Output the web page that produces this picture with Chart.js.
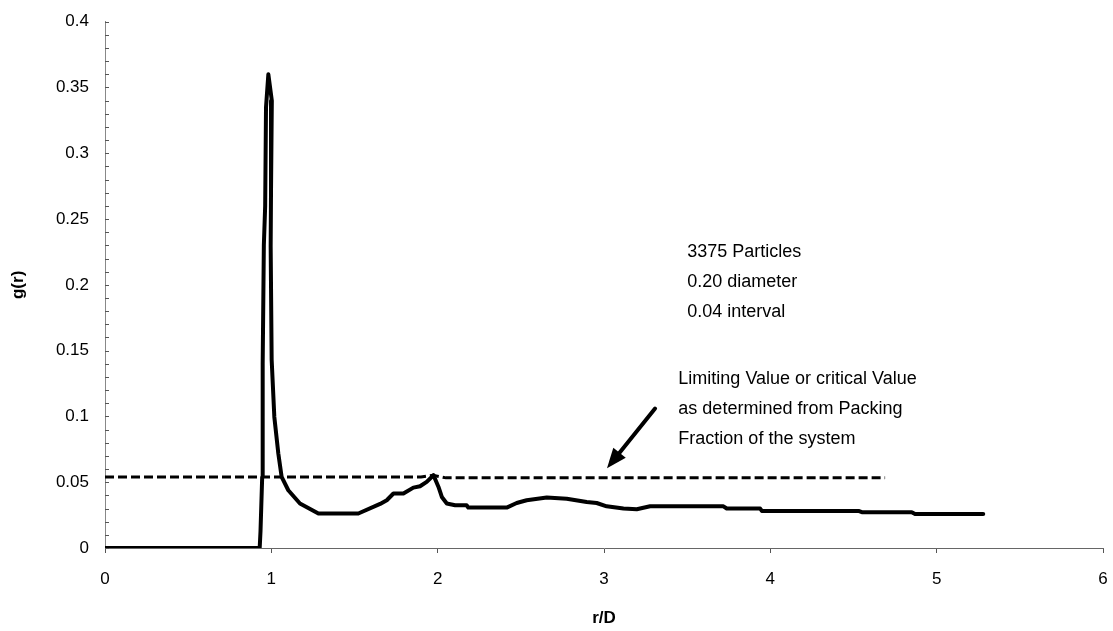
<!DOCTYPE html>
<html>
<head>
<meta charset="utf-8">
<script src="https://cdn.jsdelivr.net/npm/chart.js@4/dist/chart.umd.min.js"></script>
<style>
html,body{margin:0;padding:0;background:#fff;}
#wrap{width:1113px;height:631px;}
</style>
</head>
<body>
<div id="wrap"><canvas id="c" width="1113" height="631"></canvas></div>
<script>
// g(r) curve
const rValues = [0, 0.5, 0.93, 0.935, 0.945, 0.948, 0.955, 0.963, 0.968, 0.982, 1.003, 0.998, 0.996, 1.002, 1.018, 1.042, 1.062, 1.102, 1.172, 1.283, 1.523, 1.654, 1.694, 1.734, 1.794, 1.854, 1.894, 1.934, 1.975, 2.005, 2.025, 2.055, 2.105, 2.174, 2.184, 2.415, 2.475, 2.535, 2.656, 2.776, 2.896, 2.956, 3.016, 3.117, 3.197, 3.277, 3.718, 3.738, 3.939, 3.949, 4.53, 4.55, 4.85, 4.87, 5.28];
const gValues = [0, 0, 0, 0.013, 0.054, 0.14, 0.23, 0.26, 0.335, 0.36, 0.34, 0.27, 0.229, 0.143, 0.0996, 0.0718, 0.054, 0.0439, 0.0338, 0.0262, 0.0262, 0.0335, 0.0363, 0.0414, 0.0414, 0.0459, 0.0469, 0.0502, 0.0553, 0.0464, 0.0388, 0.0338, 0.0325, 0.0325, 0.0307, 0.0307, 0.0342, 0.0363, 0.0383, 0.0375, 0.035, 0.0342, 0.0317, 0.03, 0.0294, 0.0317, 0.0317, 0.03, 0.03, 0.0282, 0.0282, 0.0272, 0.0272, 0.0258, 0.0258];
// limiting (critical) value, dashed
const limitR = [0, 1.9, 1.97, 2.05, 4.69];
const limitG = [0.054, 0.054, 0.0553, 0.0533, 0.0533];
// axis ticks
const xTicks = [0, 1, 2, 3, 4, 5, 6];
const yTicks = [0, 0.05, 0.1, 0.15, 0.2, 0.25, 0.3, 0.35, 0.4];
const yTickLabels = ['0', '0.05', '0.1', '0.15', '0.2', '0.25', '0.3', '0.35', '0.4'];
// annotation text
const infoLines = ['3375 Particles', '0.20 diameter', '0.04 interval'];
const noteLines = ['Limiting Value or critical Value', 'as determined from Packing', 'Fraction of the system'];

const curve = rValues.map((r, i) => ({x: r, y: gValues[i]}));
const limit = limitR.map((r, i) => ({x: r, y: limitG[i]}));
const FONT = "'Liberation Sans', Arial, Helvetica, sans-serif";

const extras = {
  id: 'extras',
  afterDatasetsDraw(chart) {
    const ctx = chart.ctx;
    const xs = chart.scales.x, ys = chart.scales.y;
    ctx.save();
    // inward minor ticks on the y axis every 0.01
    ctx.strokeStyle = '#555';
    ctx.lineWidth = 1;
    const x0 = xs.getPixelForValue(0);
    for (let k = 0; k <= 40; k++) {
      const py = Math.round(ys.getPixelForValue(k / 100)) + 0.5;
      ctx.beginPath();
      ctx.moveTo(x0, py);
      ctx.lineTo(x0 + 4, py);
      ctx.stroke();
    }
    // annotation text
    ctx.fillStyle = '#000';
    ctx.font = '18px ' + FONT;
    ctx.textBaseline = 'alphabetic';
    ctx.textAlign = 'left';
    const ix = xs.getPixelForValue(3.5), iy = ys.getPixelForValue(0.2213);
    infoLines.forEach((t, i) => ctx.fillText(t, ix, iy + i * 30));
    const nx = xs.getPixelForValue(3.447), ny = ys.getPixelForValue(0.125);
    noteLines.forEach((t, i) => ctx.fillText(t, nx, ny + i * 30));
    // arrow
    const tx = xs.getPixelForValue(3.307), ty = ys.getPixelForValue(0.106);
    const hx = xs.getPixelForValue(3.018), hy = ys.getPixelForValue(0.0606);
    const ang = Math.atan2(hy - ty, hx - tx);
    const hl = 20, hw = 8;
    const bx = hx - hl * Math.cos(ang), by = hy - hl * Math.sin(ang);
    ctx.strokeStyle = '#000';
    ctx.lineWidth = 4;
    ctx.lineCap = 'round';
    ctx.beginPath();
    ctx.moveTo(tx, ty);
    ctx.lineTo(bx, by);
    ctx.stroke();
    ctx.beginPath();
    ctx.moveTo(hx, hy);
    ctx.lineTo(bx + hw * Math.sin(ang), by - hw * Math.cos(ang));
    ctx.lineTo(bx - hw * Math.sin(ang), by + hw * Math.cos(ang));
    ctx.closePath();
    ctx.fill();
    ctx.restore();
  }
};

new Chart(document.getElementById('c'), {
  type: 'line',
  data: {
    datasets: [
      {data: curve, borderColor: '#000', borderWidth: 4, pointRadius: 0, tension: 0, fill: false, borderJoinStyle: 'round', borderCapStyle: 'round'},
      {data: limit, borderColor: '#000', borderWidth: 3, borderDash: [9, 4], pointRadius: 0, tension: 0, fill: false}
    ]
  },
  options: {
    responsive: false,
    animation: false,
    events: [],
    layout: {padding: {left: 0, right: 10, top: 21.7, bottom: 0}},
    plugins: {legend: {display: false}, tooltip: {enabled: false}},
    scales: {
      x: {
        type: 'linear', min: 0, max: 6,
        afterBuildTicks: s => { s.ticks = xTicks.map(v => ({value: v})); },
        afterFit: s => { s.height = 83; s.paddingLeft = 0; s.paddingRight = 0; },
        grid: {drawOnChartArea: false, drawTicks: true, tickLength: 5, color: '#555'},
        border: {color: '#666', width: 1},
        ticks: {color: '#000', font: {family: FONT, size: 17}, padding: 16, maxRotation: 0},
        title: {display: true, text: 'r/D', color: '#000', font: {family: FONT, size: 17, weight: 'bold'}, padding: {top: 0, bottom: 2}}
      },
      y: {
        type: 'linear', min: 0, max: 0.4,
        afterBuildTicks: s => { s.ticks = yTicks.map(v => ({value: v})); },
        afterFit: s => { s.width = 105; s.paddingTop = 0; s.paddingBottom = 0; },
        grid: {drawOnChartArea: false, drawTicks: false},
        border: {color: '#888', width: 1},
        ticks: {color: '#000', font: {family: FONT, size: 17}, padding: 16,
          callback: (v, i) => yTickLabels[i]},
        title: {display: true, text: 'g(r)', color: '#000', font: {family: FONT, size: 17, weight: 'bold'}, padding: {top: 8, bottom: 0}}
      }
    }
  },
  plugins: [extras]
});
</script>
</body>
</html>
